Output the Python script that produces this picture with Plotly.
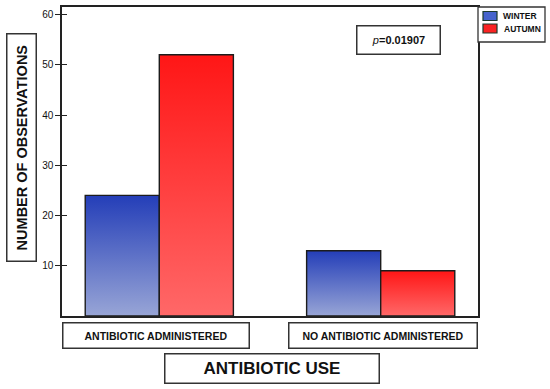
import plotly.graph_objects as go

categories = ["ANTIBIOTIC ADMINISTERED", "NO ANTIBIOTIC ADMINISTERED"]
series_names = ["WINTER", "AUTUMN"]
winter_values = [24, 13]
autumn_values = [52, 9]
y_tick_values = [10, 20, 30, 40, 50, 60]
p_text = "<i>p</i><b>=0.01907</b>"
x_title = "ANTIBIOTIC USE"
y_title = "NUMBER OF OBSERVATIONS"

FONT = "Liberation Sans, Arial, sans-serif"
BAR_W = 0.3346
grad = {
    "WINTER": [[0, "rgb(152,165,214)"], [1, "rgb(36,62,184)"]],
    "AUTUMN": [[0, "rgb(255,104,104)"], [1, "rgb(255,22,22)"]],
}
legend_fill = {"WINTER": "rgb(70,100,205)", "AUTUMN": "rgb(250,35,35)"}

fig = go.Figure()
for s_idx, (name, vals) in enumerate(zip(series_names, [winter_values, autumn_values])):
    for c_idx, v in enumerate(vals):
        x0 = c_idx - BAR_W if s_idx == 0 else c_idx
        x1 = x0 + BAR_W
        fig.add_trace(go.Scatter(
            x=[x0, x0, x1, x1, x0], y=[0, v, v, 0, 0],
            mode="lines", fill="toself",
            fillgradient=dict(type="vertical", colorscale=grad[name]),
            line=dict(color="#1c1c1c", width=1.4),
            name=name, showlegend=False, hoverinfo="skip",
        ))

# invisible trace to keep the overlay axis alive
fig.add_trace(go.Scatter(x=[0], y=[0], yaxis="y2", mode="markers",
                         marker=dict(opacity=0), showlegend=False, hoverinfo="skip"))

fig.update_layout(
    width=550, height=389,
    margin=dict(l=62, r=72, t=7, b=73),
    paper_bgcolor="white", plot_bgcolor="white",
    font=dict(family=FONT, color="#111"),
    showlegend=False,
    xaxis=dict(range=[-0.4395, 1.4395], showgrid=False, zeroline=False,
               showticklabels=False, ticks="", showline=True, mirror=True,
               linecolor="#222", linewidth=1.5, automargin=False),
    yaxis=dict(range=[0, 61.5], tickvals=y_tick_values, showgrid=False, zeroline=False,
               ticks="outside", ticklen=5, tickwidth=1.2, tickcolor="#222",
               tickfont=dict(size=10, color="#111"), automargin=False,
               showline=True, mirror=True, linecolor="#222", linewidth=1.5),
    yaxis2=dict(range=[0, 61.5], tickvals=y_tick_values, overlaying="y", side="left",
                showgrid=False, zeroline=False, ticks="inside", ticklen=5, tickwidth=1.2,
                tickcolor="#222", showticklabels=False, showline=False, automargin=False),
)

box = dict(bordercolor="#333", borderwidth=1.5, borderpad=0, bgcolor="white",
           showarrow=False, xanchor="center", yanchor="middle")


def px(x):
    return (x - 62) / 416


def py(y):
    return (316 - y) / 309


# category label boxes
shifts = [-3.5, 2.5]
widths = [185, 187]
for i, cat in enumerate(categories):
    fig.add_annotation(x=i, xref="x", y=py(335), yref="paper", xshift=shifts[i],
                       text=f"<b>{cat}</b>", width=widths[i], height=24,
                       font=dict(size=10.5, color="#111"), **box)

# x title box
fig.add_annotation(x=px(271.7), xref="paper", y=py(368), yref="paper",
                   text=f"<b>{x_title}</b>", width=213, height=28,
                   font=dict(size=17, color="#111"), **box)

# y title box
fig.add_annotation(x=px(21), xref="paper", y=py(148), yref="paper",
                   text=f"<b>{y_title}</b>", textangle=-90, width=226, height=28,
                   font=dict(size=14.5, color="#111"), **box)

# p-value box
fig.add_annotation(x=px(398), xref="paper", y=py(39.5), yref="paper",
                   text=p_text, width=82, height=27,
                   font=dict(size=11, color="#111"), **box)

# custom legend
fig.add_shape(type="rect", xref="paper", yref="paper", x0=px(478), x1=px(545),
              y0=py(42), y1=py(7), line=dict(color="#333", width=1.3), fillcolor="white")
leg_rows = [(11.5, 20.5, 16), (24, 33, 28.5)]
text_x = [501, 502]
for name, (t, b, c), tx in zip(series_names, leg_rows, text_x):
    fig.add_shape(type="rect", xref="paper", yref="paper", x0=px(483), x1=px(497),
                  y0=py(b), y1=py(t), line=dict(color="#1c3a2c", width=1.2),
                  fillcolor=legend_fill[name])
    fig.add_annotation(x=px(tx), xref="paper", y=py(c), yref="paper", text=f"<b>{name}</b>",
                       xanchor="left", yanchor="middle", showarrow=False,
                       font=dict(size=8.5, color="#111"))

fig.write_html("out.html", config={"displayModeBar": False},
               post_script="document.body.style.margin='0';")
